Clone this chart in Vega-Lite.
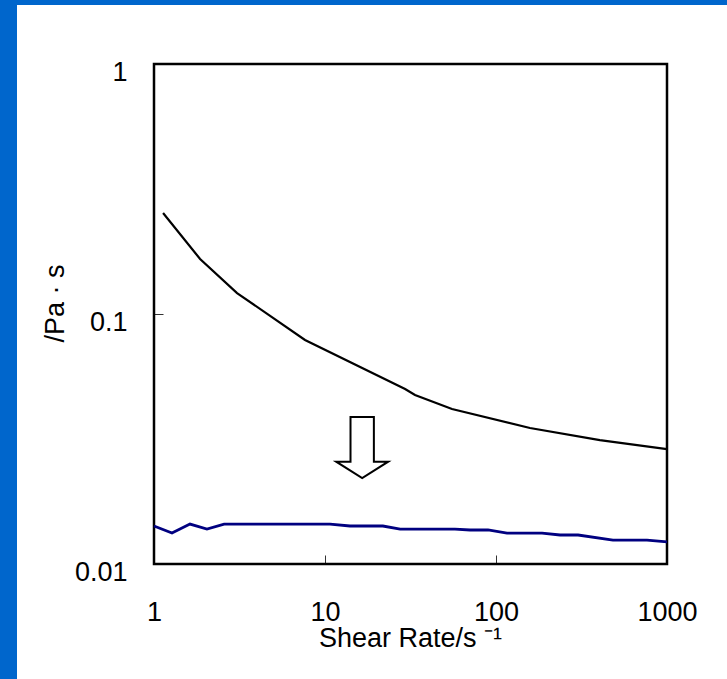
{
  "$schema": "https://vega.github.io/schema/vega-lite/v6.json",
  "autosize": {"type": "none"},
  "padding": {"left": 17, "top": 5, "right": 0, "bottom": 0},
  "background": "#0066CC",
  "width": 710,
  "height": 674,
  "view": {"fill": "white", "stroke": null},
  "config": {
    "axis": {
      "labelFont": "Liberation Sans",
      "titleFont": "Liberation Sans",
      "labelFontSize": 27,
      "titleFontSize": 27,
      "labelColor": "black",
      "titleColor": "black",
      "titleFontWeight": "normal",
      "domain": false,
      "grid": false,
      "ticks": true,
      "tickColor": "#333333",
      "tickWidth": 1,
      "tickSize": -9,
      "labelFlush": false
    }
  },
  "datasets": {
    "curves": [
      {"rate": 1.13, "visc": 0.2535, "series": "A"},
      {"rate": 1.86, "visc": 0.166, "series": "A"},
      {"rate": 3.06, "visc": 0.1213, "series": "A"},
      {"rate": 7.64, "visc": 0.0787, "series": "A"},
      {"rate": 29.4, "visc": 0.0501, "series": "A"},
      {"rate": 33.6, "visc": 0.0474, "series": "A"},
      {"rate": 55.3, "visc": 0.0417, "series": "A"},
      {"rate": 158, "visc": 0.035, "series": "A"},
      {"rate": 405, "visc": 0.0313, "series": "A"},
      {"rate": 1000, "visc": 0.0288, "series": "A"},
      {"rate": 1, "visc": 0.01419, "series": "B"},
      {"rate": 1.274, "visc": 0.0133, "series": "B"},
      {"rate": 1.624, "visc": 0.01445, "series": "B"},
      {"rate": 2.04, "visc": 0.0138, "series": "B"},
      {"rate": 2.57, "visc": 0.01445, "series": "B"},
      {"rate": 10.7, "visc": 0.01445, "series": "B"},
      {"rate": 14.0, "visc": 0.01419, "series": "B"},
      {"rate": 21.8, "visc": 0.01419, "series": "B"},
      {"rate": 27.5, "visc": 0.0138, "series": "B"},
      {"rate": 57.5, "visc": 0.0138, "series": "B"},
      {"rate": 70.5, "visc": 0.01368, "series": "B"},
      {"rate": 89.8, "visc": 0.01368, "series": "B"},
      {"rate": 116, "visc": 0.0133, "series": "B"},
      {"rate": 186, "visc": 0.0133, "series": "B"},
      {"rate": 237, "visc": 0.01306, "series": "B"},
      {"rate": 302, "visc": 0.01306, "series": "B"},
      {"rate": 483, "visc": 0.01247, "series": "B"},
      {"rate": 764, "visc": 0.01247, "series": "B"},
      {"rate": 1000, "visc": 0.01225, "series": "B"}
    ],
    "arrow": [{"rate": 16.5, "visc": 0.02924}],
    "frame": [{"x0": 1, "x1": 1000, "y0": 0.01, "y1": 1}]
  },
  "encoding": {
    "x": {
      "field": "rate",
      "type": "quantitative",
      "scale": {"type": "log", "domain": [1, 1000], "range": [137, 650]},
      "axis": {
        "title": "Shear Rate/s ⁻¹",
        "values": [1, 10, 100, 1000],
        "format": "d",
        "offset": -115,
        "labelBaseline": "alphabetic",
        "labelPadding": 65,
        "titleBaseline": "alphabetic",
        "titleY": 82,
        "titleX": 393
      }
    },
    "y": {
      "field": "visc",
      "type": "quantitative",
      "scale": {"type": "log", "domain": [0.01, 1], "range": [559, 59]},
      "axis": {
        "title": "/Pa · s",
        "values": [0.01, 0.1, 1],
        "format": "~g",
        "offset": -137,
        "labelPadding": 36,
        "labelOffset": 8,
        "labelBaseline": "middle",
        "titleBaseline": "alphabetic",
        "titleX": -91,
        "titleY": 298
      }
    }
  },
  "layer": [
    {
      "data": {"name": "frame"},
      "mark": {"type": "rect", "filled": false, "stroke": "black", "strokeWidth": 2.5},
      "encoding": {
        "x": {"field": "x0", "type": "quantitative"},
        "x2": {"field": "x1"},
        "y": {"field": "y0", "type": "quantitative"},
        "y2": {"field": "y1"}
      }
    },
    {
      "data": {"name": "curves"},
      "mark": {"type": "line"},
      "encoding": {
        "color": {
          "field": "series",
          "type": "nominal",
          "scale": {"domain": ["A", "B"], "range": ["black", "#000080"]},
          "legend": null
        },
        "strokeWidth": {
          "field": "series",
          "type": "nominal",
          "scale": {"domain": ["A", "B"], "range": [2.2, 2.8]},
          "legend": null
        }
      }
    },
    {
      "data": {"name": "arrow"},
      "mark": {
        "type": "point",
        "shape": "M -0.383 -1 L 0.383 -1 L 0.383 0.466 L 0.852 0.466 L 0 1 L -0.852 0.466 L -0.383 0.466 Z",
        "size": 3721,
        "filled": false,
        "fill": "white",
        "fillOpacity": 1,
        "stroke": "black",
        "strokeWidth": 2,
        "opacity": 1
      }
    }
  ]
}
